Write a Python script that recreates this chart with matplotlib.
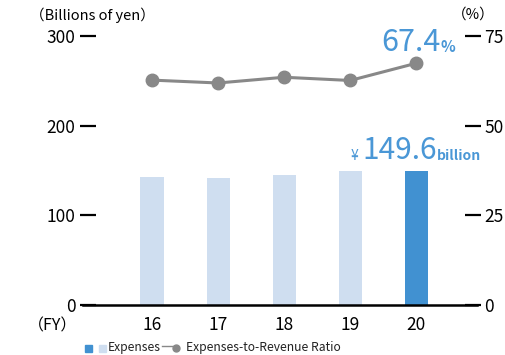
import numpy as np
import matplotlib.pyplot as plt
from matplotlib.patches import Rectangle
from matplotlib.lines import Line2D

plt.rcParams['font.family'] = ['Noto Sans CJK JP', 'DejaVu Sans']

# data
years = ['16', '17', '18', '19', '20']
expenses = [142.5, 142.0, 145.0, 149.5, 149.6]
ratio = [62.7, 61.9, 63.5, 62.6, 67.4]
left_ticks = [0, 100, 200, 300]
right_ticks = [0, 25, 50, 75]

light = '#cfdef0'
dark = '#4191d1'
label_blue = '#4a97d6'
grey = '#888888'

W, H = 506, 355
fig = plt.figure(figsize=(W / 100, H / 100), dpi=100)
ax = fig.add_axes([88 / W, 1 - 305 / H, (473 - 88) / W, (305 - 36) / H])
ax2 = ax.twinx()

x = np.arange(len(years))
colors = [light] * (len(years) - 1) + [dark]
ax.bar(x, expenses, width=0.35, color=colors, zorder=2)
ax.set_xlim(-0.97, 4.86)
ax.set_ylim(0, 300)
ax2.set_ylim(0, 75)

ax2.plot(x, ratio, color=grey, lw=2.2, marker='o', ms=9, zorder=3)

for a in (ax, ax2):
    for s in a.spines.values():
        s.set_visible(False)

ax.set_yticks(left_ticks)
ax.tick_params(axis='y', direction='inout', length=12, width=1.6, pad=3,
               labelsize=12.5, color='black')
ax2.set_yticks(right_ticks)
ax2.tick_params(axis='y', direction='inout', length=12, width=1.6, pad=2,
                labelsize=12.5, color='black')
ax.set_xticks(x)
ax.set_xticklabels(years)
ax.tick_params(axis='x', length=0, pad=8, labelsize=12.5)

# baseline extends a bit beyond the axes
ax.add_line(Line2D([-1.045, 4.92], [0, 0], color='black', lw=1.8,
                   clip_on=False, zorder=4))

# unit labels
fig.text(30 / W, 1 - 15 / H, '（Billions of yen）', fontsize=10.5, va='center', ha='left')
fig.text(452 / W, 1 - 15 / H, '（%）', fontsize=10.5, va='center', ha='left')
fig.text(28 / W, 1 - 326 / H, '（FY）', fontsize=11.5, va='center', ha='left')

# highlight labels for the latest year
ax2.annotate(f'{ratio[-1]}', (x[-1], ratio[-1]), xytext=(24, 5),
             textcoords='offset pixels', ha='right', va='bottom',
             fontsize=22, color=label_blue)
ax2.annotate('%', (x[-1], ratio[-1]), xytext=(24, 8),
             textcoords='offset pixels', ha='left', va='bottom',
             fontsize=11, color=label_blue, fontweight='bold')
ax.annotate('¥', (x[-1], expenses[-1]), xytext=(-58, 8),
            textcoords='offset pixels', ha='right', va='bottom',
            fontsize=10, color=label_blue)
ax.annotate(f'{expenses[-1]}', (x[-1], expenses[-1]), xytext=(21, 5),
            textcoords='offset pixels', ha='right', va='bottom',
            fontsize=21.5, color=label_blue)
ax.annotate('billion', (x[-1], expenses[-1]), xytext=(21, 8),
            textcoords='offset pixels', ha='left', va='bottom',
            fontsize=10, color=label_blue, fontweight='bold')

# legend
ly = 1 - 348 / H
fig.patches.append(Rectangle((85 / W, ly - 3.5 / H), 7 / W, 7 / H,
                             transform=fig.transFigure, color=dark))
fig.patches.append(Rectangle((99 / W, ly - 3.5 / H), 7 / W, 7 / H,
                             transform=fig.transFigure, color=light))
fig.text(108 / W, ly, 'Expenses', fontsize=8.7, va='center', ha='left', color='#222222')
fig.lines.append(Line2D([162 / W, 176 / W], [ly + 2 / H, ly + 2 / H],
                        transform=fig.transFigure, color=grey, lw=1))
fig.lines.append(Line2D([176 / W], [ly], transform=fig.transFigure,
                        color=grey, marker='o', ms=5))
fig.text(186 / W, ly, 'Expenses-to-Revenue Ratio', fontsize=8.7, va='center',
         ha='left', color='#222222')

fig.savefig('out.png', dpi=100)
